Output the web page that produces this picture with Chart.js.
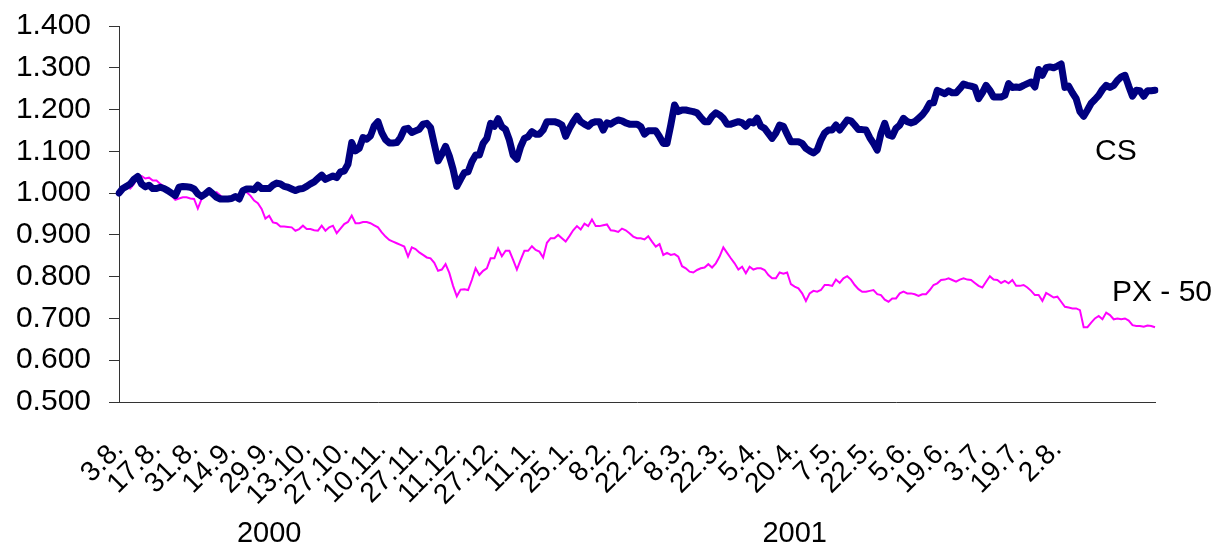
<!DOCTYPE html>
<html>
<head>
<meta charset="utf-8">
<title>CS vs PX - 50</title>
<script src="https://cdn.jsdelivr.net/npm/chart.js@4.4.1/dist/chart.umd.min.js"></script>
<style>
  html, body { margin: 0; padding: 0; background: #fff; }
  #wrap { width: 1218px; height: 544px; }
</style>
</head>
<body>
<div id="wrap"><canvas id="graf" width="1218" height="544"></canvas></div>
<script>
// popisky osy x (kazdy 10. obchodni den)
const tickLabels = [
  '3.8.', '17.8.', '31.8.', '14.9.', '29.9.', '13.10.', '27.10.', '10.11.', '27.11.',
  '11.12.', '27.12.', '11.1.', '25.1.', '8.2.', '22.2.', '8.3.', '22.3.', '5.4.',
  '20.4.', '7.5.', '22.5.', '5.6.', '19.6.', '3.7.', '19.7.', '2.8.'
];
const yearLabels = ['2000', '2001'];
const seriesNames = ['CS', 'PX - 50'];

// CS - denni hodnoty (index, 3.8.2000 = 1)
const cs = [
  1.000, 1.011, 1.016, 1.022, 1.033, 1.040, 1.022, 1.015, 1.019, 1.011,
  1.011, 1.014, 1.011, 1.006, 1.000, 0.994, 1.014, 1.016, 1.015, 1.014,
  1.010, 0.998, 0.992, 0.998, 1.006, 0.998, 0.990, 0.986, 0.986, 0.986,
  0.987, 0.992, 0.986, 1.006, 1.010, 1.010, 1.008, 1.019, 1.011, 1.011,
  1.011, 1.019, 1.024, 1.022, 1.016, 1.014, 1.010, 1.006, 1.010, 1.011,
  1.016, 1.022, 1.027, 1.035, 1.043, 1.033, 1.037, 1.041, 1.037, 1.051,
  1.053, 1.069, 1.121, 1.101, 1.107, 1.133, 1.129, 1.137, 1.161, 1.171,
  1.145, 1.128, 1.120, 1.120, 1.121, 1.133, 1.153, 1.155, 1.145, 1.149,
  1.153, 1.165, 1.167, 1.157, 1.117, 1.077, 1.093, 1.112, 1.089, 1.057,
  1.016, 1.033, 1.049, 1.051, 1.075, 1.091, 1.091, 1.119, 1.131, 1.167,
  1.160, 1.178, 1.159, 1.152, 1.127, 1.091, 1.081, 1.111, 1.131, 1.135,
  1.147, 1.141, 1.141, 1.151, 1.171, 1.171, 1.171, 1.168, 1.163, 1.136,
  1.155, 1.171, 1.184, 1.171, 1.165, 1.160, 1.168, 1.171, 1.171, 1.151,
  1.168, 1.165, 1.171, 1.175, 1.173, 1.168, 1.165, 1.165, 1.165, 1.159,
  1.141, 1.149, 1.149, 1.149, 1.135, 1.119, 1.119, 1.163, 1.211, 1.195,
  1.199, 1.199, 1.197, 1.195, 1.192, 1.181, 1.171, 1.171, 1.184, 1.192,
  1.187, 1.179, 1.165, 1.165, 1.168, 1.171, 1.168, 1.160, 1.171, 1.168,
  1.179, 1.160, 1.155, 1.143, 1.131, 1.144, 1.163, 1.160, 1.141, 1.123,
  1.123, 1.123, 1.119, 1.107, 1.101, 1.096, 1.103, 1.127, 1.144, 1.151,
  1.151, 1.163, 1.151, 1.163, 1.175, 1.173, 1.163, 1.152, 1.152, 1.151,
  1.133, 1.119, 1.103, 1.143, 1.167, 1.139, 1.136, 1.155, 1.163, 1.179,
  1.171, 1.168, 1.171, 1.179, 1.187, 1.199, 1.215, 1.216, 1.246, 1.242,
  1.238, 1.245, 1.240, 1.240, 1.250, 1.261, 1.258, 1.256, 1.253, 1.226,
  1.240, 1.258, 1.246, 1.230, 1.230, 1.230, 1.234, 1.262, 1.253, 1.254,
  1.253, 1.258, 1.262, 1.266, 1.254, 1.296, 1.282, 1.300, 1.302, 1.300,
  1.304, 1.309, 1.253, 1.256, 1.240, 1.226, 1.195, 1.184, 1.199, 1.215,
  1.224, 1.234, 1.248, 1.258, 1.253, 1.258, 1.270, 1.278, 1.282, 1.256,
  1.232, 1.246, 1.245, 1.232, 1.245, 1.245, 1.246
];

// PX - 50
const px = [
  1.000, 1.011, 1.014, 1.011, 1.022, 1.041, 1.041, 1.035, 1.037, 1.030,
  1.030, 1.022, 1.016, 1.008, 0.994, 0.984, 0.987, 0.990, 0.990, 0.987,
  0.986, 0.963, 0.986, 1.000, 1.011, 0.998, 1.002, 0.994, 0.987, 0.982,
  0.984, 0.989, 0.986, 1.003, 1.002, 0.994, 0.982, 0.976, 0.962, 0.939,
  0.946, 0.930, 0.928, 0.920, 0.920, 0.919, 0.918, 0.910, 0.914, 0.922,
  0.914, 0.914, 0.911, 0.910, 0.922, 0.910, 0.918, 0.922, 0.904, 0.915,
  0.926, 0.931, 0.946, 0.928, 0.928, 0.931, 0.931, 0.928, 0.923, 0.918,
  0.906, 0.896, 0.888, 0.884, 0.880, 0.876, 0.872, 0.848, 0.870, 0.866,
  0.858, 0.852, 0.846, 0.844, 0.833, 0.814, 0.817, 0.830, 0.809, 0.778,
  0.753, 0.769, 0.770, 0.768, 0.792, 0.820, 0.804, 0.814, 0.820, 0.844,
  0.844, 0.868, 0.849, 0.862, 0.862, 0.840, 0.817, 0.840, 0.862, 0.862,
  0.873, 0.864, 0.860, 0.846, 0.881, 0.892, 0.892, 0.900, 0.892, 0.884,
  0.897, 0.911, 0.921, 0.913, 0.927, 0.921, 0.937, 0.921, 0.921, 0.923,
  0.925, 0.911, 0.910, 0.907, 0.915, 0.911, 0.904, 0.896, 0.892, 0.892,
  0.889, 0.897, 0.884, 0.872, 0.878, 0.852, 0.857, 0.852, 0.854, 0.848,
  0.825, 0.820, 0.812, 0.810, 0.816, 0.820, 0.822, 0.830, 0.822, 0.832,
  0.848, 0.870, 0.857, 0.844, 0.832, 0.817, 0.824, 0.808, 0.824, 0.817,
  0.820, 0.820, 0.816, 0.804, 0.796, 0.796, 0.810, 0.807, 0.810, 0.782,
  0.776, 0.772, 0.760, 0.742, 0.760, 0.766, 0.764, 0.768, 0.780, 0.780,
  0.778, 0.793, 0.785, 0.796, 0.801, 0.793, 0.780, 0.770, 0.764, 0.764,
  0.766, 0.768, 0.758, 0.756, 0.745, 0.740, 0.748, 0.748, 0.760, 0.764,
  0.760, 0.760, 0.758, 0.754, 0.758, 0.758, 0.768, 0.780, 0.784, 0.792,
  0.793, 0.796, 0.792, 0.788, 0.793, 0.796, 0.793, 0.792, 0.785, 0.778,
  0.774, 0.788, 0.801, 0.793, 0.792, 0.785, 0.790, 0.784, 0.792, 0.778,
  0.778, 0.780, 0.774, 0.766, 0.756, 0.756, 0.742, 0.761, 0.756, 0.750,
  0.752, 0.740, 0.728, 0.726, 0.724, 0.724, 0.720, 0.679, 0.679, 0.690,
  0.700, 0.706, 0.698, 0.714, 0.708, 0.698, 0.700, 0.698, 0.700, 0.695,
  0.684, 0.682, 0.682, 0.680, 0.683, 0.682, 0.679
];

const FONT = '"Liberation Sans", Arial, sans-serif';
const AXIS = '#333333';

// kategorie - popisek jen u kazdeho 10. dne
const categories = cs.map((_, i) => (i % 10 === 0 && tickLabels[i / 10]) ? tickLabels[i / 10] : '');

// texty v grafu (nazvy rad a roky)
const popisky = {
  id: 'popisky',
  afterDraw(chart) {
    const ctx = chart.ctx;
    const x = chart.scales.x;
    ctx.save();
    ctx.fillStyle = '#000';
    ctx.textBaseline = 'alphabetic';
    ctx.font = '30px ' + FONT;
    ctx.textAlign = 'left';
    ctx.fillText(seriesNames[0], 1095, 160);
    ctx.fillText(seriesNames[1], 1112, 301);
    ctx.font = '29px ' + FONT;
    ctx.textAlign = 'center';
    ctx.fillText(yearLabels[0], x.getPixelForValue(40), 542);
    ctx.fillText(yearLabels[1], x.getPixelForValue(180), 542);
    ctx.restore();
  }
};

new Chart(document.getElementById('graf'), {
  type: 'line',
  data: {
    labels: categories,
    datasets: [
      {
        label: seriesNames[0],
        data: cs,
        borderColor: '#000080',
        borderWidth: 7,
        pointRadius: 0,
        tension: 0,
        borderJoinStyle: 'round',
        borderCapStyle: 'round'
      },
      {
        label: seriesNames[1],
        data: px,
        borderColor: '#ff00ff',
        borderWidth: 2,
        pointRadius: 0,
        tension: 0
      }
    ]
  },
  options: {
    responsive: false,
    animation: false,
    devicePixelRatio: 1,
    layout: { padding: { top: 26, right: 63, left: 0, bottom: 0 } },
    plugins: {
      legend: { display: false },
      tooltip: { enabled: false }
    },
    scales: {
      x: {
        offset: false,
        grid: { display: false, drawTicks: false },
        border: { display: true, color: AXIS, width: 1 },
        ticks: {
          autoSkip: false,
          maxRotation: 45,
          minRotation: 45,
          padding: 31,
          color: '#000',
          font: { family: FONT, size: 28 }
        },
        afterFit(scale) { scale.height = 142; }
      },
      y: {
        min: 0.5,
        max: 1.4,
        grid: { drawOnChartArea: false, drawTicks: true, tickLength: 10, color: AXIS },
        border: { display: true, color: AXIS, width: 1 },
        ticks: {
          stepSize: 0.1,
          padding: 18,
          color: '#000',
          font: { family: FONT, size: 30 },
          callback: (v) => Number(v).toFixed(3)
        },
        afterFit(scale) {
          scale.width = 119;
          scale.paddingTop = 0;
          scale.paddingBottom = 0;
        }
      }
    }
  },
  plugins: [popisky]
});
</script>
</body>
</html>
